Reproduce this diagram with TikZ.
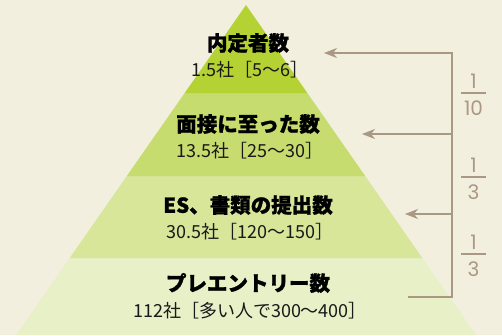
\documentclass[tikz,border=0pt]{standalone}
\usepackage{fontspec}
\newfontfamily\jp{Noto Sans CJK JP}
\newfontfamily\jpt[BoldFeatures={FakeBold=1.2}]{Noto Sans CJK JP}
\newfontfamily\pop{Poppins}
\usetikzlibrary{arrows.meta}
\definecolor{bg}{HTML}{F3EFDE}
\definecolor{bandA}{HTML}{B4D233}
\definecolor{bandB}{HTML}{C6DC6F}
\definecolor{bandC}{HTML}{D8E69A}
\definecolor{bandD}{HTML}{E8F0C8}
\definecolor{brk}{HTML}{A99884}
\tikzset{
  ttl/.style={font=\jpt\bfseries\fontsize{20.5}{23}\selectfont, inner sep=0pt, text=black},
  sub/.style={font=\jp\fontsize{18}{20}\selectfont, inner sep=0pt, text=black!90},
  brkline/.style={draw=brk, line width=1.6pt},
  brkarrow/.style={brkline, -{Stealth[length=13pt,width=10pt,inset=4pt]}},
  frac/.style={font=\pop\fontsize{20}{22}\selectfont, text=brk, inner sep=0pt},
  fracbar/.style={draw=brk, line width=1.6pt}
}
\begin{document}
\begin{tikzpicture}[x=1pt,y=-1pt]
\fill[bg] (0,0) rectangle (502,335);
\useasboundingbox (0,0) rectangle (502,335);
% bands
\fill[bandD] (69.7,258) -- (422.3,258) -- (476,335) -- (16,335) -- cycle;
\fill[bandC] (126.8,176) -- (365.2,176) -- (422.3,258) -- (69.7,258) -- cycle;
\fill[bandB] (184.7,93) -- (307.3,93) -- (365.2,176) -- (126.8,176) -- cycle;
\fill[bandA] (246,5) -- (307.3,93) -- (184.7,93) -- cycle;
% texts
\node[ttl] (t1) at (248,43) {内定者数};
\node[sub] (s1) at (250,70) {1.5社［5〜6］};
\node[ttl] (t2) at (248,124) {面接に至った数};
\node[sub] (s2) at (250,151) {13.5社［25〜30］};
\node[ttl] (t3) at (248,205) {ES、書類の提出数};
\node[sub] (s3) at (250,232) {30.5社［120〜150］};
\node[ttl] (t4) at (248,283) {プレエントリー数};
\node[sub] (s4) at (250,311) {112社［多い人で300〜400］};
% bracket
\coordinate (b0) at (408,297);
\coordinate (b1) at (452,297);
\coordinate (btop) at (452,53);
\coordinate (a1) at (324,53);
\coordinate (m2) at (452,134);
\coordinate (a2) at (362,134);
\coordinate (m3) at (452,214);
\coordinate (a3) at (405,214);
\draw[brkarrow, line join=miter] (b0) -- (b1) -- (btop) -- (a1);
\draw[brkarrow] (m2) -- (a2);
\draw[brkarrow] (m3) -- (a3);
% fractions
\node[frac] (n1) at (473.5,81) {1};
\draw[fracbar] (461,92.7) -- (486,92.7);
\node[frac] (d1) at (473.5,108.5) {10};
\node[frac] (n2) at (473.5,165) {1};
\draw[fracbar] (461,176.7) -- (486,176.7);
\node[frac] (d2) at (473.5,192.5) {3};
\node[frac] (n3) at (473.5,242) {1};
\draw[fracbar] (461,254) -- (486,254);
\node[frac] (d3) at (473.5,269.5) {3};
\end{tikzpicture}
\end{document}
